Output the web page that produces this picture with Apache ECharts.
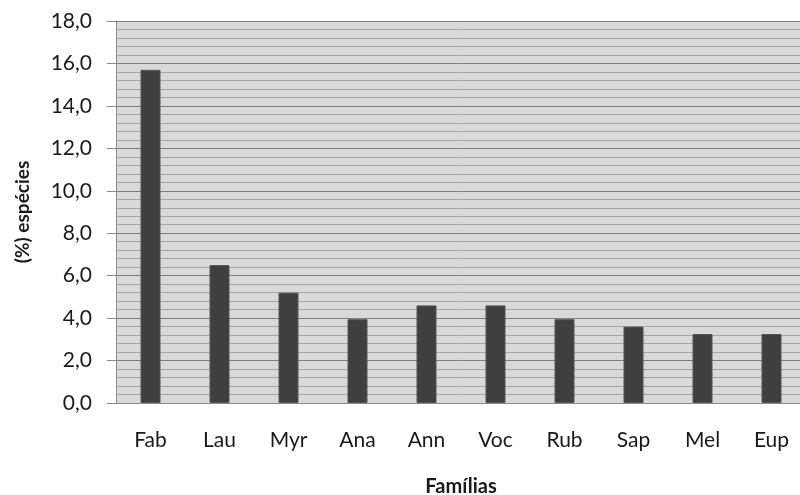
<!DOCTYPE html>
<html><head><meta charset="utf-8">
<script src="https://cdn.jsdelivr.net/npm/echarts@6/dist/echarts.min.js"></script>
<style>html,body{margin:0;padding:0;background:#fff}#c{width:800px;height:495px}</style>
</head><body><div id="c"></div>
<script>
const categories = ['Fab','Lau','Myr','Ana','Ann','Voc','Rub','Sap','Mel','Eup'];
const values = [15.7, 6.5, 5.2, 3.95, 4.6, 4.6, 3.95, 3.6, 3.25, 3.25];
const yTitle = '(%) espécies';
const xTitle = 'Famílias';
const chart = echarts.init(document.getElementById('c'));
chart.setOption({
  animation: false,
  textStyle: { fontFamily: 'Lato' },
  grid: { left: 116, right: -6, top: 21, bottom: 92, show: true, backgroundColor: '#d9d9d9', borderWidth: 0, containLabel: false, outerBoundsMode: 'none' },
  xAxis: {
    type: 'category', data: categories,
    name: xTitle, nameLocation: 'middle', nameGap: 74,
    nameTextStyle: { fontWeight: 'bold', fontSize: 20, color: '#1a1a1a' },
    axisLine: { lineStyle: { color: '#8c8c8c', width: 1 } },
    axisTick: { show: false },
    axisLabel: { fontSize: 21, color: '#1a1a1a', margin: 27 }
  },
  yAxis: {
    type: 'value', min: 0, max: 18, interval: 2,
    name: yTitle, nameLocation: 'middle', nameGap: 84,
    nameTextStyle: { fontWeight: 'bold', fontSize: 19, color: '#1a1a1a' },
    axisLine: { show: true, lineStyle: { color: '#8c8c8c' } },
    axisTick: { show: true, length: 9, lineStyle: { color: '#8c8c8c' } },
    axisLabel: { fontSize: 21, color: '#1a1a1a', margin: 24, formatter: v => v.toFixed(1).replace('.', ',') },
    splitLine: { lineStyle: { color: '#7f7f7f', width: 1 } },
    minorTick: { show: false, splitNumber: 5 },
    minorSplitLine: { show: true, lineStyle: { color: '#a6a6a6', width: 1 } }
  },
  series: [{
    type: 'bar', data: values, barWidth: 20,
    itemStyle: { color: '#3f3f3f', borderColor: '#555', borderWidth: 1 }
  }]
});
</script></body></html>
